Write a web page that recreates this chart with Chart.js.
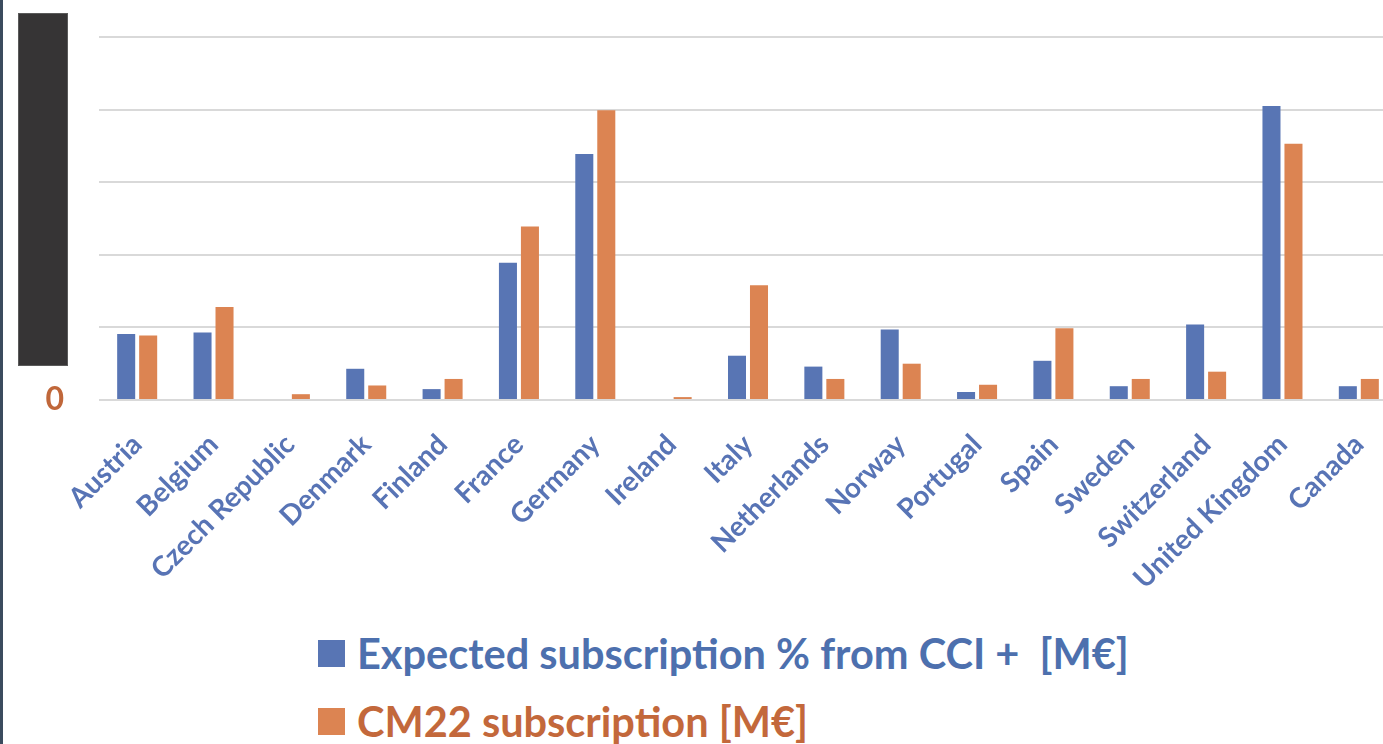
<!DOCTYPE html>
<html>
<head>
<meta charset="utf-8">
<script src="https://cdn.jsdelivr.net/npm/chart.js@4"></script>
<style>
    body { margin: 0; background: #fff; overflow: hidden; width: 1383px; height: 744px; position: relative; font-family: Lato, sans-serif; }
    #wrap { position: absolute; left: 0; top: 0; }
    #edge { position: absolute; left: 0; top: 0; width: 3px; height: 744px; background: #3b4b5e; }
    #mask { position: absolute; left: 18px; top: 13px; width: 50px; height: 353px; background: #363435; border: 1px solid #5a5a5a; box-sizing: border-box; }
    #legend { position: absolute; left: 318px; top: 640px; }
    .row { display: flex; align-items: center; height: 27px; margin-bottom: 41px; white-space: pre; }
    .box { width: 27px; height: 27px; margin-right: 12px; }
    .row span { font-size: 41.5px; font-weight: bold; line-height: 1; }
</style>
</head>
<body>
<div id="wrap"><canvas id="subsChart" width="1397" height="620"></canvas></div>
<div id="edge"></div>
<div id="mask"></div>
<div id="legend"></div>
<script>
const countries = ['Austria', 'Belgium', 'Czech Republic', 'Denmark', 'Finland', 'France', 'Germany', 'Ireland',
    'Italy', 'Netherlands', 'Norway', 'Portugal', 'Spain', 'Sweden', 'Switzerland', 'United Kingdom', 'Canada'];
const expectedCCI = [0.91, 0.93, 0, 0.43, 0.15, 1.89, 3.39, 0, 0.61, 0.46, 0.97, 0.11, 0.54, 0.19, 1.04, 4.05, 0.19];
const cm22 = [0.89, 1.28, 0.08, 0.20, 0.29, 2.39, 3.99, 0.04, 1.58, 0.29, 0.50, 0.21, 0.99, 0.29, 0.39, 3.53, 0.29];
const yTicks = [0];

const blue = '#5875b4';
const orange = '#dc8452';

const ctx = document.getElementById('subsChart').getContext('2d');
const subsChart = new Chart(ctx, {
    type: 'bar',
    data: {
        labels: countries,
        datasets: [{
            label: 'Expected subscription % from CCI +  [M€]',
            data: expectedCCI,
            backgroundColor: blue,
            textColor: '#4d70ae'
        }, {
            label: 'CM22 subscription [M€]',
            data: cm22,
            backgroundColor: orange,
            textColor: '#c3683b'
        }]
    },
    options: {
        responsive: false,
        animation: false,
        layout: { padding: { top: 37, left: 0, right: 0, bottom: 0 } },
        datasets: {
            bar: { categoryPercentage: 0.576, barPercentage: 0.82 }
        },
        plugins: {
            legend: { display: false },
            tooltip: { enabled: false }
        },
        scales: {
            x: {
                grid: { display: false, drawTicks: false },
                border: { display: false },
                ticks: {
                    autoSkip: false,
                    minRotation: 45,
                    maxRotation: 45,
                    padding: 28,
                    color: '#5874b5',
                    font: { family: 'Lato', size: 28, weight: 'bold' }
                },
                afterFit: (scale) => {
                    scale.height = 220;
                    scale.paddingLeft = 0;
                    scale.paddingRight = 0;
                }
            },
            y: {
                min: 0,
                max: 5,
                ticks: {
                    stepSize: 1,
                    padding: 35,
                    color: '#c0673a',
                    font: { family: 'Lato', size: 32, weight: 'bold' },
                    callback: (value) => yTicks.includes(value) ? String(value) : ''
                },
                grid: { color: '#d9d9d9', lineWidth: 2, drawTicks: false },
                border: { display: false },
                afterFit: (scale) => {
                    scale.width = 99;
                    scale.paddingTop = 0;
                    scale.paddingBottom = 0;
                }
            }
        }
    }
});

// legend rows, left aligned like the original
const legendEl = document.getElementById('legend');
subsChart.data.datasets.forEach((ds) => {
    const row = document.createElement('div');
    row.className = 'row';
    const box = document.createElement('div');
    box.className = 'box';
    box.style.background = ds.backgroundColor;
    const txt = document.createElement('span');
    txt.textContent = ds.label;
    txt.style.color = ds.textColor;
    row.appendChild(box);
    row.appendChild(txt);
    legendEl.appendChild(row);
});
</script>
</body>
</html>
